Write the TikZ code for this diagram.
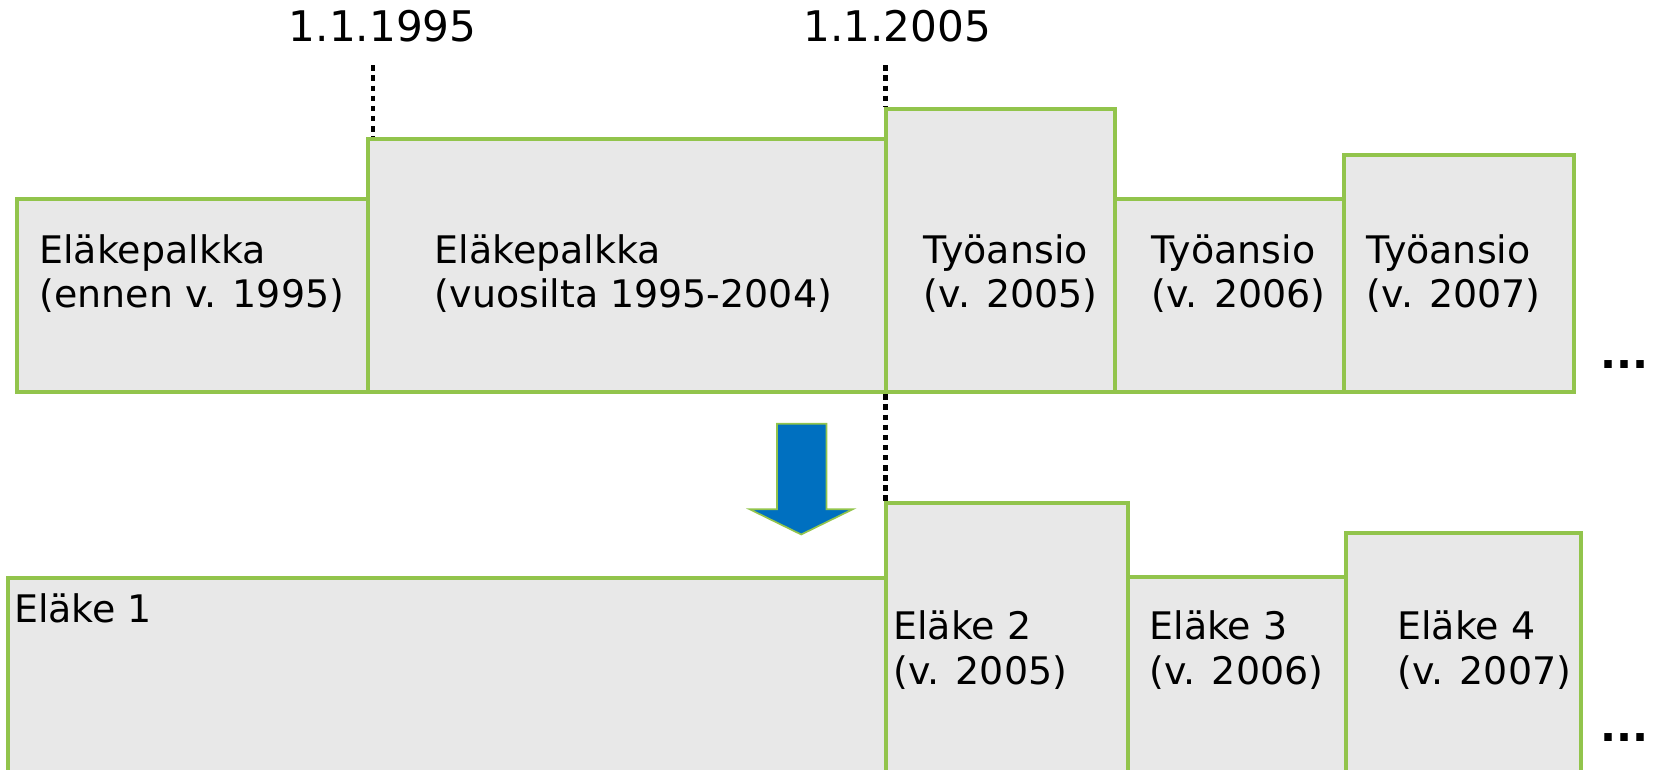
\documentclass[tikz,border=0pt]{standalone}
\usepackage{fontspec}
\setmainfont{DejaVu Sans}
\usetikzlibrary{positioning}
\definecolor{boxgreen}{RGB}{146,196,76}
\definecolor{boxgray}{RGB}{232,232,232}
\definecolor{arrowblue}{RGB}{0,112,192}
\tikzset{
  box/.style={draw=boxgreen,fill=boxgray,line width=1.9pt},
  txt/.style={anchor=base west,inner sep=0pt,align=left,font=\fontsize{18}{21}\selectfont},
  more/.style={anchor=base west,inner sep=0pt,font=\fontsize{20}{24}\selectfont\bfseries},
  datelbl/.style={anchor=base,inner sep=0pt,font=\fontsize{20}{24}\selectfont},
  dotline/.style={line width=2.1pt,dash pattern=on 2.6pt off 2.2pt},
  blockarrow/.style={fill=arrowblue,draw=boxgreen,line width=0.8pt}
}
\begin{document}
\begin{tikzpicture}[x=0.5pt,y=-0.5pt]
\useasboundingbox (0,0) rectangle (1568,730);
% ylempi rivi
\draw[box] (16,189) rectangle (349,372);
\draw[box] (349,132) rectangle (840,372);
\draw[box] (840,103) rectangle (1058,372);
\draw[box] (1058,189) rectangle (1275,372);
\draw[box] (1275,147) rectangle (1493,372);
% alempi rivi
\draw[box] (8,548) rectangle (840,745);
\draw[box] (840,477) rectangle (1070,745);
\draw[box] (1070,547) rectangle (1277,745);
\draw[box] (1277,506) rectangle (1500,745);

\node[datelbl] (d95) at (363,39) {1.1.1995};
\node[datelbl] (d05) at (851,39) {1.1.2005};

\coordinate (d95a) at (354,62);
\coordinate (d95b) at (354,130);
\coordinate (d05a) at (840,62);
\coordinate (d05b) at (840,101);
\coordinate (d05c) at (840,374);
\coordinate (d05d) at (840,475);
\draw[dotline] (d95a) -- (d95b);
\draw[dotline] (d05a) -- (d05b);
\draw[dotline] (d05c) -- (d05d);

% kaksiriviset: base = toisen rivin perusviiva
\node[txt] (ep1) at (37,292) {Eläkepalkka\\(ennen v. 1995)};
\node[txt] (ep2) at (412,292) {Eläkepalkka\\(vuosilta 1995-2004)};
\node[txt] (ta5) at (876,292) {Työansio\\(v. 2005)};
\node[txt] (ta6) at (1092,292) {Työansio\\(v. 2006)};
\node[txt] (ta7) at (1296,292) {Työansio\\(v. 2007)};
\node[more] (more1) at (1518,350) {...};

\node[txt] (el1) at (13,590) {Eläke 1};
\node[txt] (el2) at (847,649) {Eläke 2\\(v. 2005)};
\node[txt] (el3) at (1090,649) {Eläke 3\\(v. 2006)};
\node[txt] (el4) at (1325,649) {Eläke 4\\(v. 2007)};
\node[more] (more2) at (1518,703) {...};

% nuoli
\filldraw[blockarrow] (737,402) -- (784,402) -- (784,483) -- (809,483)
  -- (760,507) -- (711,483) -- (737,483) -- cycle;
\end{tikzpicture}
\end{document}
